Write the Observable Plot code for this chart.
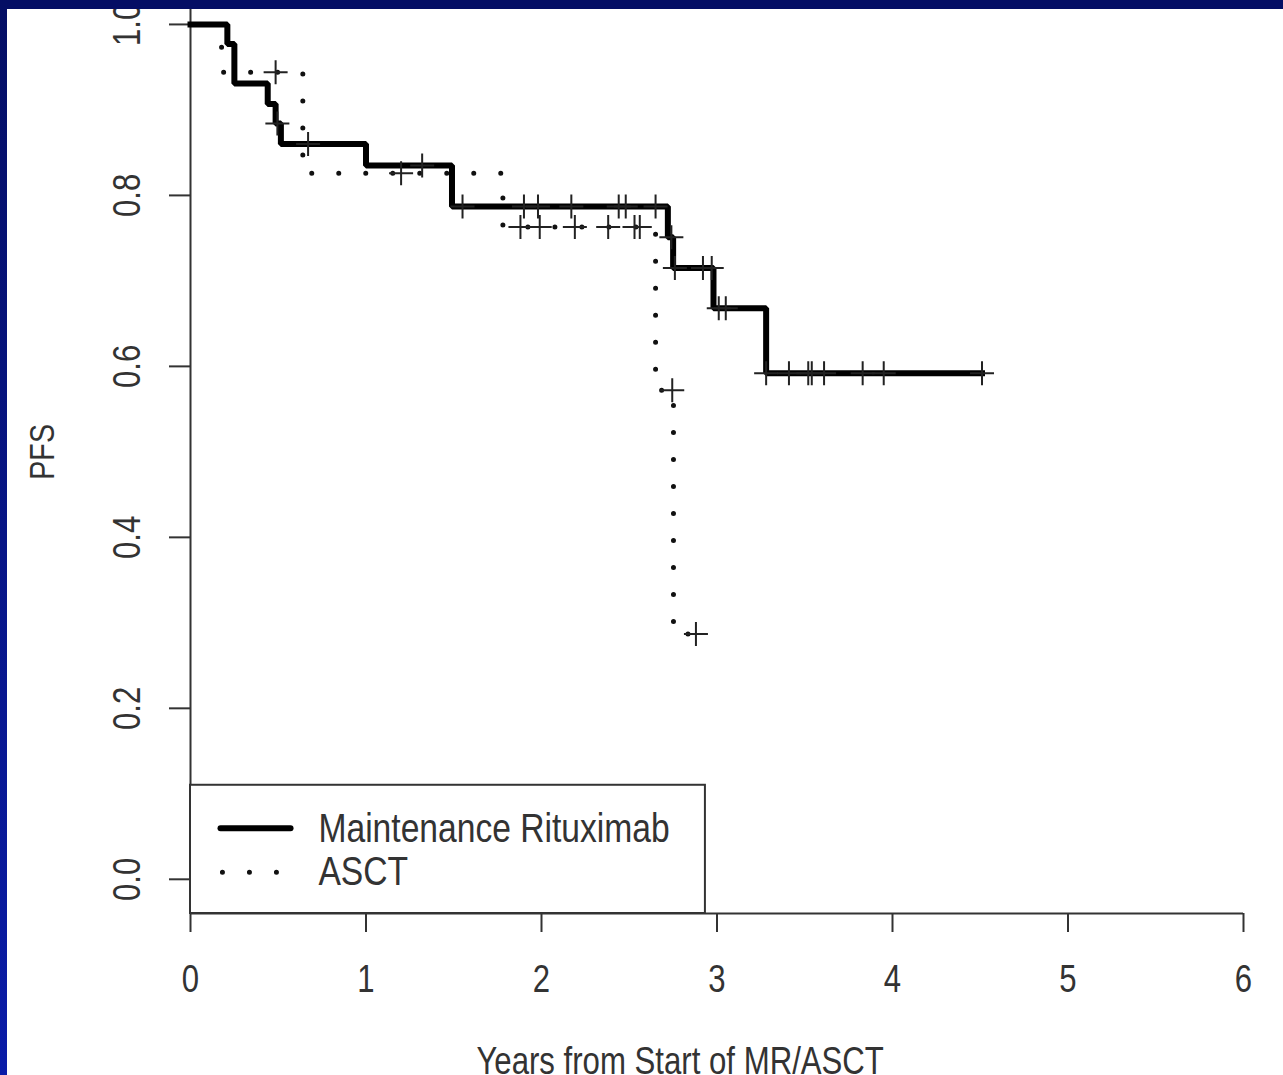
<!DOCTYPE html>
<html>
<head>
<meta charset="utf-8">
<script src="https://cdn.jsdelivr.net/npm/d3@7"></script>
<script src="https://cdn.jsdelivr.net/npm/@observablehq/plot@0.6"></script>
<style>
  html, body { margin: 0; padding: 0; }
  body { width: 1283px; height: 1075px; overflow: hidden; position: relative; background: #ffffff; }
  #chart { position: absolute; left: 0; top: 0; }
  .bord-top { position: absolute; left: 0; top: 0; width: 1283px; height: 9px; background: #040e64; }
  .bord-left { position: absolute; left: 0; top: 0; width: 7px; height: 1075px; background: linear-gradient(#040e64, #0a1ca8); }
</style>
</head>
<body>
<div id="chart"></div>
<div class="bord-top"></div>
<div class="bord-left"></div>
<script>
// ---- data ----
const xTicks = [0, 1, 2, 3, 4, 5, 6];
const yTicks = [0, 0.2, 0.4, 0.6, 0.8, 1.0];
const yTickLabels = ["0.0", "0.2", "0.4", "0.6", "0.8", "1.0"];
const xTitle = "Years from Start of MR/ASCT";
const yTitle = "PFS";
const seriesNames = ["Maintenance Rituximab", "ASCT"];

// Maintenance Rituximab Kaplan-Meier steps (time in years, PFS)
const mrTime = [0, 0.21, 0.25, 0.44, 0.485, 0.515, 1.0, 1.49, 2.72, 2.75, 2.98, 3.28, 4.51];
const mrSurv = [1.0, 0.977, 0.931, 0.907, 0.884, 0.860, 0.835, 0.787, 0.751, 0.715, 0.668, 0.592, 0.592];
// MR censored observations
const mrCensTime = [0.495, 0.67, 1.32, 1.55, 1.90, 1.98, 2.17, 2.44, 2.48, 2.65, 2.74, 2.76, 2.92, 2.97, 3.01, 3.05, 3.28, 3.41, 3.52, 3.54, 3.61, 3.83, 3.95, 4.51];
const mrCensSurv = [0.884, 0.860, 0.835, 0.787, 0.787, 0.787, 0.787, 0.787, 0.787, 0.787, 0.751, 0.715, 0.715, 0.715, 0.668, 0.668, 0.592, 0.592, 0.592, 0.592, 0.592, 0.592, 0.592, 0.592];

// ASCT Kaplan-Meier steps
const asctTime = [0, 0.177, 0.64, 1.78, 2.65, 2.752, 2.88];
const asctSurv = [1.0, 0.944, 0.826, 0.763, 0.572, 0.287, 0.287];
// ASCT censored observations
const asctCensTime = [0.485, 1.20, 1.88, 1.99, 2.19, 2.38, 2.53, 2.56, 2.745, 2.88];
const asctCensSurv = [0.944, 0.826, 0.763, 0.763, 0.763, 0.763, 0.763, 0.763, 0.572, 0.287];

// ---- build tables ----
const mr = mrTime.map((t, i) => ({t, s: mrSurv[i]}));
const asct = asctTime.map((t, i) => ({t, s: asctSurv[i]}));
const mrCens = mrCensTime.map((t, i) => ({t, s: mrCensSurv[i]}));
const asctCens = asctCensTime.map((t, i) => ({t, s: asctCensSurv[i]}));

// legend geometry (in data units)
const legendBox = [{x1: 0, x2: 2.934, y1: -0.04, y2: 0.110}];
const legSolid = [{t: 0.171, s: 0.0597}, {t: 0.570, s: 0.0597}];
const legDot = [{t: 0.182, s: 0.0082}, {t: 0.490, s: 0.0082}];
const legText = [{t: 0.729, s: 0.0590, label: seriesNames[0]}, {t: 0.729, s: 0.0082, label: seriesNames[1]}];

const plusSymbol = {
  draw(context, size) {
    const r = Math.sqrt(size / Math.PI);
    context.moveTo(-r, 0); context.lineTo(r, 0);
    context.moveTo(0, -r); context.lineTo(0, r);
  }
};

const ink = "#333333";
const font = "'Liberation Sans', Arial, sans-serif";

const chart = Plot.plot({
  width: 1283,
  height: 1075,
  marginLeft: 190,
  marginRight: 40,
  marginTop: 0,
  marginBottom: 162,
  style: {background: "transparent", fontFamily: font, color: ink},
  x: {domain: [0, 6], axis: null},
  y: {domain: [-0.04, 1.028], axis: null},
  marks: [
    // axis lines
    Plot.ruleX([0], {y1: -0.04, y2: 1.028, stroke: ink, strokeWidth: 2}),
    Plot.ruleY([-0.04], {x1: 0, x2: 6, stroke: ink, strokeWidth: 2}),
    // ticks
    Plot.axisY(yTicks, {anchor: "left", tickSize: 21, tickFormat: () => "", label: null, stroke: ink, strokeWidth: 2}),
    Plot.axisX(xTicks, {anchor: "bottom", tickSize: 19, tickFormat: () => "", label: null, stroke: ink, strokeWidth: 2, y: -0.04}),
    // tick labels
    Plot.text(yTicks, {frameAnchor: "left", y: d => d, text: (d, i) => yTickLabels[i], rotate: -90, dx: -63, fontSize: 38, fill: ink, textAnchor: "middle", lineAnchor: "middle"}),
    Plot.text(xTicks, {frameAnchor: "bottom", x: d => d, text: d => String(d), dy: 66, fontSize: 38, fill: ink, textAnchor: "middle", lineAnchor: "middle"}),
    // axis titles
    Plot.text([yTitle], {frameAnchor: "left", y: 0.5, text: d => d, rotate: -90, dx: -148, fontSize: 35, fill: ink, textAnchor: "middle", lineAnchor: "middle"}),
    Plot.text([xTitle], {frameAnchor: "bottom", x: 2.79, text: d => d, dy: 148, fontSize: 38, fill: ink, textAnchor: "middle", lineAnchor: "middle"}),
    // legend box
    Plot.rect(legendBox, {x1: "x1", x2: "x2", y1: "y1", y2: "y2", fill: "white", stroke: ink, strokeWidth: 2}),
    // curves
    Plot.line(asct, {x: "t", y: "s", curve: "step-after", stroke: "#111", strokeWidth: 5, strokeDasharray: "0,27", strokeLinecap: "round"}),
    Plot.line(mr, {x: "t", y: "s", curve: "step-after", stroke: "#000", strokeWidth: 6, strokeLinejoin: "miter", strokeLinecap: "square"}),
    // censor marks
    Plot.dot(asctCens, {x: "t", y: "s", symbol: plusSymbol, r: 12, stroke: "#222", strokeWidth: 2, fill: "none"}),
    Plot.dot(mrCens, {x: "t", y: "s", symbol: plusSymbol, r: 12, stroke: "#222", strokeWidth: 2, fill: "none"}),
    // legend content
    Plot.line(legSolid, {x: "t", y: "s", stroke: "#000", strokeWidth: 6}),
    Plot.line(legDot, {x: "t", y: "s", stroke: "#111", strokeWidth: 5, strokeDasharray: "0,27", strokeLinecap: "round"}),
    Plot.text(legText, {x: "t", y: "s", text: "label", textAnchor: "start", lineAnchor: "middle", fontSize: 41, fill: ink})
  ]
});
document.getElementById("chart").appendChild(chart);

// emulate the condensed typeface of the original (narrow sans)
chart.querySelectorAll("text").forEach(el => {
  const w = el.getComputedTextLength();
  if (w > 0) {
    el.setAttribute("textLength", (w * 0.82).toFixed(1));
    el.setAttribute("lengthAdjust", "spacingAndGlyphs");
  }
});
</script>
</body>
</html>
